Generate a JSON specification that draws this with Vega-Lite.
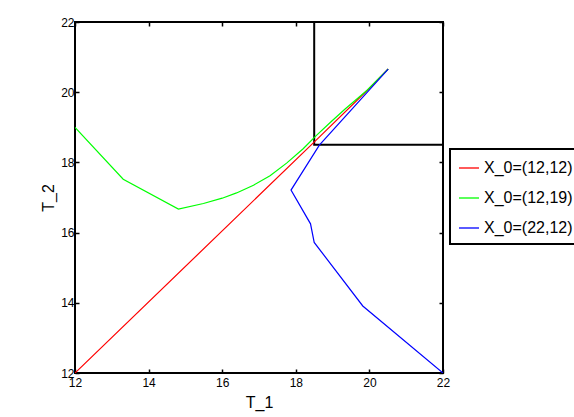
{
  "$schema": "https://vega.github.io/schema/vega-lite/v6.json",
  "width": 368,
  "height": 351,
  "autosize": "none",
  "padding": {"left": 75, "top": 22, "right": 131, "bottom": 44},
  "background": "white",
  "config": {
    "font": "Liberation Sans",
    "view": {"stroke": "black", "strokeWidth": 2},
    "axis": {
      "grid": false,
      "domain": false,
      "tickColor": "black",
      "tickSize": -4,
      "tickWidth": 1.5,
      "labelColor": "black",
      "labelFontSize": 12,
      "labelFont": "Liberation Sans",
      "titleFont": "Liberation Sans",
      "titleFontSize": 16,
      "titleFontWeight": "normal",
      "titleColor": "black",
      "labelFlush": false
    },
    "legend": {
      "orient": "none",
      "legendX": 375,
      "legendY": 127,
      "strokeColor": "black",
      "strokeWidth": 2,
      "fillColor": "white",
      "padding": 8,
      "symbolType": "stroke",
      "symbolSize": 400,
      "symbolStrokeWidth": 1.3,
      "rowPadding": 11,
      "labelOffset": 4,
      "labelFontSize": 16,
      "labelFont": "Liberation Sans",
      "labelColor": "black",
      "title": null
    }
  },
  "resolve": {"axis": {"x": "independent", "y": "independent"}},
  "layer": [
    {
      "data": {"values": [{"x1": 18.5, "x2": 22, "y1": 18.5, "y2": 22}]},
      "mark": {"type": "rect", "fill": null, "fillOpacity": 0, "stroke": "black", "strokeWidth": 2},
      "encoding": {
        "x": {"field": "x1", "type": "quantitative", "scale": {"domain": [12, 22], "nice": false, "zero": false},
              "axis": {"orient": "top", "labels": false, "title": null, "values": [12, 14, 16, 18, 20, 22]}},
        "x2": {"field": "x2"},
        "y": {"field": "y1", "type": "quantitative", "scale": {"domain": [12, 22], "nice": false, "zero": false},
              "axis": {"orient": "right", "labels": false, "title": null, "values": [12, 14, 16, 18, 20, 22]}},
        "y2": {"field": "y2"}
      }
    },
    {
      "data": {"values": [
        {"s": "X_0=(12,12)", "i": 0, "x": 12, "y": 12},
        {"s": "X_0=(12,12)", "i": 1, "x": 18.54, "y": 18.62},
        {"s": "X_0=(12,12)", "i": 2, "x": 19.93, "y": 20.04},
        {"s": "X_0=(12,12)", "i": 3, "x": 20.51, "y": 20.66},
        {"s": "X_0=(12,19)", "i": 0, "x": 12, "y": 19},
        {"s": "X_0=(12,19)", "i": 1, "x": 13.31, "y": 17.52},
        {"s": "X_0=(12,19)", "i": 2, "x": 14.81, "y": 16.67},
        {"s": "X_0=(12,19)", "i": 3, "x": 15.49, "y": 16.83},
        {"s": "X_0=(12,19)", "i": 4, "x": 16.0, "y": 16.98},
        {"s": "X_0=(12,19)", "i": 5, "x": 16.39, "y": 17.13},
        {"s": "X_0=(12,19)", "i": 6, "x": 16.85, "y": 17.35},
        {"s": "X_0=(12,19)", "i": 7, "x": 17.3, "y": 17.62},
        {"s": "X_0=(12,19)", "i": 8, "x": 17.75, "y": 17.98},
        {"s": "X_0=(12,19)", "i": 9, "x": 18.2, "y": 18.39},
        {"s": "X_0=(12,19)", "i": 10, "x": 18.54, "y": 18.75},
        {"s": "X_0=(12,19)", "i": 11, "x": 18.95, "y": 19.15},
        {"s": "X_0=(12,19)", "i": 12, "x": 19.34, "y": 19.52},
        {"s": "X_0=(12,19)", "i": 13, "x": 19.93, "y": 20.05},
        {"s": "X_0=(12,19)", "i": 14, "x": 20.51, "y": 20.66},
        {"s": "X_0=(22,12)", "i": 0, "x": 22, "y": 12},
        {"s": "X_0=(22,12)", "i": 1, "x": 19.82, "y": 13.91},
        {"s": "X_0=(22,12)", "i": 2, "x": 18.5, "y": 15.72},
        {"s": "X_0=(22,12)", "i": 3, "x": 18.4, "y": 16.25},
        {"s": "X_0=(22,12)", "i": 4, "x": 17.87, "y": 17.21},
        {"s": "X_0=(22,12)", "i": 5, "x": 18.64, "y": 18.49},
        {"s": "X_0=(22,12)", "i": 6, "x": 20.51, "y": 20.66}
      ]},
      "mark": {"type": "line", "strokeWidth": 1.2, "clip": true},
      "encoding": {
        "x": {"field": "x", "type": "quantitative", "scale": {"domain": [12, 22], "nice": false, "zero": false},
              "axis": {"orient": "bottom", "title": "T_1", "values": [12, 14, 16, 18, 20, 22], "labelPadding": 8, "titlePadding": 6}},
        "y": {"field": "y", "type": "quantitative", "scale": {"domain": [12, 22], "nice": false, "zero": false},
              "axis": {"orient": "left", "title": "T_2", "values": [12, 14, 16, 18, 20, 22], "labelPadding": 5, "titlePadding": 4}},
        "color": {"field": "s", "type": "nominal",
                  "scale": {"domain": ["X_0=(12,12)", "X_0=(12,19)", "X_0=(22,12)"], "range": ["#ff0000", "#00ff00", "#0000ff"]}},
        "order": {"field": "i", "type": "quantitative"}
      }
    }
  ]
}
